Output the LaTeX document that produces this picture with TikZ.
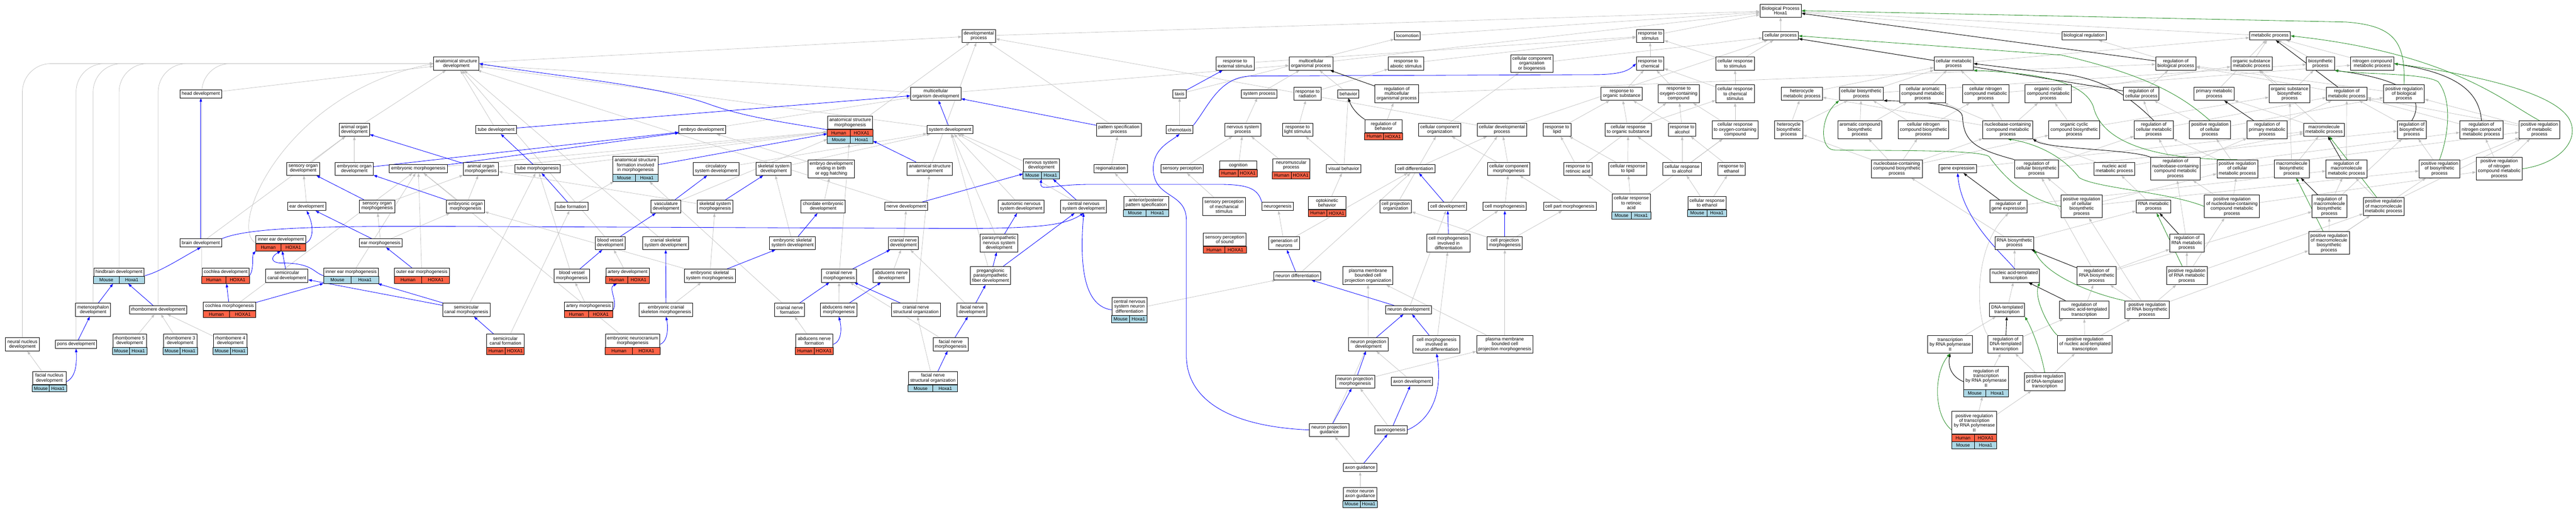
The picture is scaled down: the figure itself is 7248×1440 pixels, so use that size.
\documentclass[tikz,border=0pt]{standalone}
\usepackage{fontspec}
\setmainfont{Liberation Sans}
\usetikzlibrary{arrows.meta,calc,fit}
\pgfdeclarelayer{back}
\pgfdeclarelayer{bg}
\pgfsetlayers{back,bg,main}
\definecolor{hred}{HTML}{FF6347}
\definecolor{mblue}{HTML}{ADD8E6}
\definecolor{eg}{HTML}{C0C0C0}
\definecolor{eb}{HTML}{0000FF}
\definecolor{egr}{HTML}{228B22}
\tikzset{
 box/.style={draw=black,line width=1.4pt,fill=white,align=center,inner xsep=5pt,inner ysep=1pt,font=\fontsize{13}{13.6}\selectfont},
 rowtxt/.style={inner sep=0pt,font=\fontsize{13}{13.6}\selectfont},
 lgrey/.style={draw=eg,line width=1pt,-{Triangle[length=10pt,width=7pt]}},
 lblue/.style={draw=eb,line width=1.2pt,-{Triangle[length=10pt,width=7pt]}},
 lblack/.style={draw=black,line width=1.3pt,-{Triangle[length=10pt,width=7pt]}},
 lgreen/.style={draw=egr,line width=1.2pt,-{Triangle[length=10pt,width=7pt]}},
}
\newcommand{\nd}[5]{\node[box,minimum height={9.5+13.6*#4}] (#1) at (#2,#3) {#5};}
\newcommand{\hrow}[5]{%
 \draw[line width=1.4pt,fill=#3] ($(#1.south west)+(0,#2)$) rectangle ($(#1.south east)+(0,#2+20)$);
 \draw[line width=1.4pt] ($(#1.south)+(0,#2)$) -- ($(#1.south)+(0,#2+20)$);
 \node[rowtxt] at ($(#1.south west)!0.25!(#1.south east)+(0,#2+10)$) {#4};
 \node[rowtxt] at ($(#1.south west)!0.75!(#1.south east)+(0,#2+10)$) {#5};}
\newcommand{\rcH}[5]{%
 \node[box,minimum width=105,minimum height={9.5+13.6*#4}] (#1m) at (#2,#3-10) {#5};
 \hrow{#1m}{0}{hred}{Human}{HOXA1}
 \coordinate (#1b) at ($(#1m.south)+(0,20)$);
 \node[fit=(#1m)(#1b),inner sep=0pt] (#1) {};}
\newcommand{\rcM}[5]{%
 \node[box,minimum width=95,minimum height={9.5+13.6*#4}] (#1m) at (#2,#3-10) {#5};
 \hrow{#1m}{0}{mblue}{Mouse}{Hoxa1}
 \coordinate (#1b) at ($(#1m.south)+(0,20)$);
 \node[fit=(#1m)(#1b),inner sep=0pt] (#1) {};}
\newcommand{\rcHM}[5]{%
 \node[box,minimum width=105,minimum height={9.5+13.6*#4}] (#1m) at (#2,#3-20) {#5};
 \hrow{#1m}{0}{hred}{Human}{HOXA1}
 \hrow{#1m}{20}{mblue}{Mouse}{Hoxa1}
 \coordinate (#1b) at ($(#1m.south)+(0,40)$);
 \node[fit=(#1m)(#1b),inner sep=0pt] (#1) {};}
\begin{document}
\begin{tikzpicture}[x=1pt,y=-1pt]
\begin{pgfonlayer}{back}
\fill[white] (0,0) rectangle (7248,1440);
\end{pgfonlayer}
\useasboundingbox (0,0) rectangle (7248,1440);
% R0
\nd{bp}{5010}{30}{2}{Biological Process\\Hoxa1}
% R1
\nd{devp}{2754}{101}{2}{developmental\\process}
\nd{loco}{3960}{101}{1}{locomotion}
\nd{rstim}{4643}{101}{2}{response to\\stimulus}
\nd{cellp}{5010}{101}{1}{cellular process}
\nd{bioreg}{5864}{101}{1}{biological regulation}
\nd{metp}{6387}{101}{1}{metabolic process}
% R2
\nd{asd}{1284}{179}{2}{anatomical structure\\development}
\nd{rext}{3475}{179}{2}{response to\\external stimulus}
\nd{mop}{3689}{179}{2}{multicellular\\organismal process}
\nd{rabio}{3956}{179}{2}{response to\\abiotic stimulus}
\nd{ccob}{4310}{179}{3}{cellular component\\organization\\or biogenesis}
\nd{rchem}{4643}{179}{2}{response to\\chemical}
\nd{crstim}{4882}{179}{2}{cellular response\\to stimulus}
\nd{cmp}{5497}{179}{2}{cellular metabolic\\process}
\nd{rbp}{6122}{179}{2}{regulation of\\biological process}
\nd{osmp}{6335}{179}{2}{organic substance\\metabolic process}
\nd{biosp}{6529}{179}{2}{biosynthetic\\process}
\nd{ncmp}{6675}{179}{2}{nitrogen compound\\metabolic process}
% R3
\nd{head}{565}{264}{1}{head development}
\nd{mod}{2633}{264}{2}{multicellular\\organism development}
\nd{taxis}{3319}{264}{1}{taxis}
\nd{sysp}{3543}{264}{1}{system process}
\nd{rrad}{3679}{264}{2}{response to\\radiation}
\nd{behav}{3794}{264}{1}{behavior}
\nd{rmop}{3930}{264}{3}{regulation of\\multicellular\\organismal process}
\nd{ros}{4563}{264}{2}{response to\\organic substance}
\nd{rocc}{4723}{264}{3}{response to\\oxygen-containing\\compound}
\nd{crcs}{4882}{264}{3}{cellular response\\to chemical\\stimulus}
\nd{hetmp}{5070}{264}{2}{heterocycle\\metabolic process}
\nd{cbp}{5237}{264}{2}{cellular biosynthetic\\process}
\nd{camp}{5410}{264}{3}{cellular aromatic\\compound metabolic\\process}
\nd{cncmp}{5587}{264}{3}{cellular nitrogen\\compound metabolic\\process}
\nd{occmp}{5763}{264}{3}{organic cyclic\\compound metabolic\\process}
\nd{rcp}{6025}{264}{2}{regulation of\\cellular process}
\nd{pmp}{6230}{264}{2}{primary metabolic\\process}
\nd{osbp}{6442}{264}{3}{organic substance\\biosynthetic\\process}
\nd{rmp}{6603}{264}{2}{regulation of\\metabolic process}
\nd{prbp}{6764}{264}{3}{positive regulation\\of biological\\process}
% R4
\nd{aod}{997}{365}{2}{animal organ\\development}
\nd{tubed}{1396}{365}{1}{tube development}
\nd{embd}{1976}{365}{1}{embryo development}
\rcHM{asm}{2392}{365}{2}{anatomical structure\\morphogenesis}
\nd{sysd}{2673}{365}{1}{system development}
\nd{psp}{3148}{365}{2}{pattern specification\\process}
\nd{chemo}{3319}{365}{1}{chemotaxis}
\nd{nsp}{3497}{365}{2}{nervous system\\process}
\nd{rls}{3651}{365}{2}{response to\\light stimulus}
\rcH{rbeh}{3893}{365}{2}{regulation of\\behavior}
\nd{cco}{4051}{365}{2}{cellular component\\organization}
\nd{cdp}{4226}{365}{2}{cellular developmental\\process}
\nd{rlip}{4381}{365}{2}{response to\\lipid}
\nd{cros}{4581}{365}{2}{cellular response\\to organic substance}
\nd{ralc}{4733}{365}{2}{response to\\alcohol}
\nd{crocc}{4882}{365}{3}{cellular response\\to oxygen-containing\\compound}
\nd{hetbp}{5033}{365}{3}{heterocycle\\biosynthetic\\process}
\nd{acbp}{5233}{365}{3}{aromatic compound\\biosynthetic\\process}
\nd{cncbp}{5412}{365}{3}{cellular nitrogen\\compound biosynthetic\\process}
\nd{nccmp}{5649}{365}{3}{nucleobase-containing\\compound metabolic\\process}
\nd{occbp}{5836}{365}{3}{organic cyclic\\compound biosynthetic\\process}
\nd{rcmp}{6060}{365}{3}{regulation of\\cellular metabolic\\process}
\nd{prcp}{6218}{365}{3}{positive regulation\\of cellular\\process}
\nd{rpmp}{6379}{365}{3}{regulation of\\primary metabolic\\process}
\nd{mmp}{6539}{365}{2}{macromolecule\\metabolic process}
\nd{rbsp}{6786}{365}{3}{regulation of\\biosynthetic\\process}
\nd{rncmp}{6982}{365}{3}{regulation of\\nitrogen compound\\metabolic process}
\nd{prmp}{7145}{365}{3}{positive regulation\\of metabolic\\process}
% R5
\nd{sod}{853}{475}{2}{sensory organ\\development}
\nd{eod}{997}{475}{2}{embryonic organ\\development}
\nd{embm}{1177}{475}{1}{embryonic morphogenesis}
\nd{aom}{1353}{475}{2}{animal organ\\morphogenesis}
\nd{tubem}{1513}{475}{1}{tube morphogenesis}
\rcM{asfim}{1788}{475}{3}{anatomical structure\\formation involved\\in morphogenesis}
\nd{circ}{2015}{475}{2}{circulatory\\system development}
\nd{skd}{2177}{475}{2}{skeletal system\\development}
\nd{edeb}{2339}{475}{3}{embryo development\\ending in birth\\or egg hatching}
\nd{asa}{2616}{475}{2}{anatomical structure\\arrangement}
\rcM{nsd}{2930}{475}{2}{nervous system\\development}
\nd{regio}{3125}{475}{1}{regionalization}
\nd{sensp}{3326}{475}{1}{sensory perception}
\rcH{cogn}{3484}{475}{1}{cognition}
\rcH{neuromus}{3633}{475}{2}{neuromuscular\\process}
\nd{visb}{3781}{475}{1}{visual behavior}
\nd{celldiff}{3982}{475}{1}{cell differentiation}
\nd{ccm}{4245}{475}{2}{cellular component\\morphogenesis}
\nd{rra}{4440}{475}{2}{response to\\retinoic acid}
\nd{crlip}{4580}{475}{2}{cellular response\\to lipid}
\nd{cralc}{4733}{475}{2}{cellular response\\to alcohol}
\nd{reth}{4872}{475}{2}{response to\\ethanol}
\nd{nccbp}{5337}{475}{3}{nucleobase-containing\\compound biosynthetic\\process}
\nd{genex}{5508}{475}{1}{gene expression}
\nd{rcbp}{5730}{475}{3}{regulation of\\cellular biosynthetic\\process}
\nd{namp}{5949}{475}{2}{nucleic acid\\metabolic process}
\nd{rnccmp}{6121}{475}{4}{regulation of\\nucleobase-containing\\compound metabolic\\process}
\nd{prcmp}{6295}{475}{3}{positive regulation\\of cellular\\metabolic process}
\nd{mbp}{6448}{475}{3}{macromolecule\\biosynthetic\\process}
\nd{rmmp}{6602}{475}{3}{regulation of\\macromolecule\\metabolic process}
\nd{prbsp}{6864}{475}{3}{positive regulation\\of biosynthetic\\process}
\nd{prncmp}{7032}{475}{4}{positive regulation\\of nitrogen\\compound metabolic\\process}
% R6
\nd{eard}{863}{581}{1}{ear development}
\nd{som}{1061}{581}{2}{sensory organ\\morphogenesis}
\nd{eom}{1310}{581}{2}{embryonic organ\\morphogenesis}
\nd{tubef}{1608}{581}{1}{tube formation}
\nd{vasc}{1874}{581}{2}{vasculature\\development}
\nd{sksm}{2012}{581}{2}{skeletal system\\morphogenesis}
\nd{ced}{2316}{581}{2}{chordate embryonic\\development}
\nd{nerved}{2550}{581}{1}{nerve development}
\nd{ansd}{2873}{581}{2}{autonomic nervous\\system development}
\nd{cnsd}{3049}{581}{2}{central nervous\\system development}
\rcM{app}{3225}{581}{2}{anterior/posterior\\pattern specification}
\nd{spms}{3444}{581}{3}{sensory perception\\of mechanical\\stimulus}
\nd{neurog}{3595}{581}{1}{neurogenesis}
\rcH{optok}{3734}{581}{2}{optokinetic\\behavior}
\nd{cpo}{3927}{581}{2}{cell projection\\organization}
\nd{celldev}{4073}{581}{1}{cell development}
\nd{cellm}{4234}{581}{1}{cell morphogenesis}
\nd{cpm}{4417}{581}{1}{cell part morphogenesis}
\rcM{crra}{4590}{581}{3}{cellular response\\to retinoic\\acid}
\rcM{creth}{4803}{581}{2}{cellular response\\to ethanol}
\nd{rge}{5651}{581}{2}{regulation of\\gene expression}
\nd{prcbp}{5857}{581}{4}{positive regulation\\of cellular\\biosynthetic\\process}
\nd{rnamp}{6059}{581}{2}{RNA metabolic\\process}
\nd{prnccmp}{6280}{581}{4}{positive regulation\\of nucleobase-containing\\compound metabolic\\process}
\nd{rmbp}{6554}{581}{4}{regulation of\\macromolecule\\biosynthetic\\process}
\nd{prmmp}{6707}{581}{3}{positive regulation\\of macromolecule\\metabolic process}
% R7
\nd{brain}{565}{684}{1}{brain development}
\rcH{ied}{790}{684}{1}{inner ear development}
\nd{earm}{1071}{684}{1}{ear morphogenesis}
\nd{bvd}{1717}{684}{2}{blood vessel\\development}
\nd{cssd}{1873}{684}{2}{cranial skeletal\\system development}
\nd{essd}{2230}{684}{2}{embryonic skeletal\\system development}
\nd{cnd}{2542}{684}{2}{cranial nerve\\development}
\nd{psnsd}{2811}{684}{3}{parasympathetic\\nervous system\\development}
\rcH{sps}{3446}{684}{2}{sensory perception\\of sound}
\nd{gon}{3613}{684}{2}{generation of\\neurons}
\nd{cmid}{4076}{684}{3}{cell morphogenesis\\involved in\\differentiation}
\nd{cprm}{4234}{684}{2}{cell projection\\morphogenesis}
\nd{rnabp}{5668}{684}{2}{RNA biosynthetic\\process}
\nd{rrnamp}{6153}{684}{3}{regulation of\\RNA metabolic\\process}
\nd{prmbp}{6553}{684}{4}{positive regulation\\of macromolecule\\biosynthetic\\process}
% R8
\rcM{hbd}{335}{776}{1}{hindbrain development}
\rcH{cochd}{635}{776}{1}{cochlea development}
\nd{scd}{807}{776}{2}{semicircular\\canal development}
\rcM{iem}{988}{776}{1}{inner ear morphogenesis}
\rcH{oem}{1187}{776}{1}{outer ear morphogenesis}
\nd{bvm}{1609}{776}{2}{blood vessel\\morphogenesis}
\rcH{arterd}{1766}{776}{1}{artery development}
\nd{essm}{1997}{776}{2}{embryonic skeletal\\system morphogenesis}
\nd{cnm}{2361}{776}{2}{cranial nerve\\morphogenesis}
\nd{abnd}{2508}{776}{2}{abducens nerve\\development}
\nd{ppfd}{2787}{776}{3}{preganglionic\\parasympathetic\\fiber development}
\nd{neudiff}{3650}{776}{1}{neuron differentiation}
\nd{pmbcpo}{3849}{776}{3}{plasma membrane\\bounded cell\\projection organization}
\nd{natt}{5669}{776}{2}{nucleic acid-templated\\transcription}
\nd{rrnabp}{5899}{776}{3}{regulation of\\RNA biosynthetic\\process}
\nd{prrnamp}{6153}{776}{3}{positive regulation\\of RNA metabolic\\process}
% R9
\nd{meten}{262}{872}{2}{metencephalon\\development}
\nd{rhd}{445}{872}{1}{rhombomere development}
\rcH{cochm}{646}{872}{1}{cochlea morphogenesis}
\nd{scm}{1312}{872}{2}{semicircular\\canal morphogenesis}
\rcH{artm}{1656}{872}{1}{artery morphogenesis}
\nd{ecsm}{1874}{872}{2}{embryonic cranial\\skeleton morphogenesis}
\nd{cnf}{2222}{872}{2}{cranial nerve\\formation}
\nd{abnm}{2360}{872}{2}{abducens nerve\\morphogenesis}
\nd{cnso}{2577}{872}{2}{cranial nerve\\structural organization}
\nd{fnd}{2735}{872}{2}{facial nerve\\development}
\rcM{cnsnd}{3178}{872}{3}{central nervous\\system neuron\\differentiation}
\nd{neudev}{3963}{872}{1}{neuron development}
\nd{dtt}{5647}{872}{2}{DNA-templated\\transcription}
\nd{rnatt}{5864}{872}{3}{regulation of\\nucleic acid-templated\\transcription}
\nd{prrnabp}{6041}{872}{3}{positive regulation\\of RNA biosynthetic\\process}
% R10
\nd{nnd}{63}{969}{2}{neural nucleus\\development}
\nd{pons}{214}{969}{1}{pons development}
\rcM{rh5}{365}{969}{2}{rhombomere 5\\development}
\rcM{rh3}{507}{969}{2}{rhombomere 3\\development}
\rcM{rh4}{648}{969}{2}{rhombomere 4\\development}
\rcH{scf}{1422}{969}{2}{semicircular\\canal formation}
\rcH{enm}{1780}{969}{2}{embryonic neurocranium\\morphogenesis}
\rcH{abnf}{2291}{969}{2}{abducens nerve\\formation}
\nd{fnm}{2675}{969}{2}{facial nerve\\morphogenesis}
\nd{npd}{3850}{969}{2}{neuron projection\\development}
\nd{cmind}{4042}{969}{3}{cell morphogenesis\\involved in\\neuron differentiation}
\nd{pmbcpm}{4234}{969}{3}{plasma membrane\\bounded cell\\projection morphogenesis}
\nd{trp2}{5487}{969}{3}{transcription\\by RNA polymerase\\II}
\nd{rdtt}{5643}{969}{3}{regulation of\\DNA-templated\\transcription}
\nd{prnatt}{5866}{969}{3}{positive regulation\\of nucleic acid-templated\\transcription}
% R11
\rcM{fnud}{139}{1074}{2}{facial nucleus\\development}
\rcM{fnso}{2625}{1074}{2}{facial nerve\\structural organization}
\nd{npm}{3813}{1074}{2}{neuron projection\\morphogenesis}
\nd{axd}{3973}{1074}{1}{axon development}
\rcM{rtrp2}{5588}{1074}{4}{regulation of\\transcription\\by RNA polymerase\\II}
\nd{prdtt}{5753}{1074}{3}{positive regulation\\of DNA-templated\\transcription}
% R12-14
\nd{npg}{3740}{1210}{2}{neuron projection\\guidance}
\nd{axgen}{3914}{1210}{1}{axonogenesis}
\rcHM{prtrp2}{5555}{1210}{4}{positive regulation\\of transcription\\by RNA polymerase\\II}
\nd{axg}{3827}{1316}{1}{axon guidance}
\rcM{mnag}{3827}{1400}{2}{motor neuron\\axon guidance}

\begin{pgfonlayer}{bg}
% grey edges
\foreach \a/\b in {devp/bp,loco/bp,rstim/bp,cellp/bp,bioreg/bp,metp/bp,mop/bp,
 asd/devp,rext/rstim,rabio/rstim,rchem/rstim,crstim/rstim,crstim/cellp,ccob/cellp,cmp/cellp,cmp/metp,rbp/bioreg,osmp/metp,biosp/metp,ncmp/metp,
 mod/asd,mod/mop,head/asd,taxis/loco,sysp/mop,rrad/rabio,behav/mop,rmop/rbp,ros/rchem,rocc/rchem,crcs/rchem,crcs/crstim,hetmp/cmp,cbp/cmp,cbp/biosp,camp/cmp,cncmp/cmp,cncmp/ncmp,occmp/osmp,rcp/rbp,pmp/metp,osbp/osmp,osbp/biosp,rmp/rbp,prbp/rbp,
 aod/asd,tubed/asd,embd/mod,asm/devp,sysd/asd,psp/devp,chemo/taxis,nsp/sysp,rls/rrad,rbeh/rmop,cco/ccob,cdp/cellp,cdp/devp,rlip/ros,cros/ros,cros/crcs,ralc/rocc,ralc/ros,crocc/rocc,crocc/crcs,hetbp/hetmp,hetbp/cbp,acbp/cbp,acbp/camp,cncbp/cbp,cncbp/cncmp,nccmp/camp,nccmp/cncmp,nccmp/hetmp,nccmp/occmp,occbp/occmp,occbp/osbp,rcmp/rcp,rcmp/rmp,prcp/rcp,prcp/prbp,rpmp/rmp,mmp/pmp,mmp/osmp,rbsp/rmp,rncmp/rmp,prmp/rmp,prmp/prbp,
 sod/aod,eod/aod,embm/asm,aom/asm,tubem/asm,circ/sysd,skd/sysd,edeb/embd,asa/devp,nsd/sysd,regio/psp,sensp/nsp,cogn/nsp,neuromus/nsp,visb/behav,visb/rls,celldiff/cdp,ccm/cdp,ccm/cco,rra/rlip,rra/rocc,crlip/rlip,crlip/cros,cralc/ralc,cralc/cros,cralc/crocc,reth/ralc,nccbp/hetbp,nccbp/acbp,nccbp/cncbp,nccbp/nccmp,nccbp/occbp,genex/mmp,rcbp/rcmp,rcbp/rbsp,namp/nccmp,namp/mmp,rnccmp/rcmp,rnccmp/rpmp,rnccmp/rncmp,prcmp/rcmp,prcmp/prcp,prcmp/prmp,mbp/mmp,mbp/osbp,rmmp/rmp,prbsp/rbsp,prbsp/prmp,prncmp/rncmp,prncmp/prmp,
 eard/sod,som/aom,eom/aom,eom/embm,tubef/asfim,vasc/asm,sksm/aom,ced/edeb,nerved/asd,ansd/sysd,cnsd/sysd,psnsd/sysd,ppfd/sysd,app/regio,spms/sensp,gon/neurog,gon/celldiff,neudiff/celldiff,optok/visb,cpo/cco,celldev/cdp,cellm/ccm,cpm/ccm,crra/crlip,crra/rra,crra/crocc,creth/cralc,creth/reth,rge/rmmp,prcbp/rcbp,prcbp/prcmp,prcbp/prbsp,rnamp/namp,prnccmp/rnccmp,prnccmp/prcmp,prnccmp/prncmp,rmbp/rmmp,rmbp/rbsp,prmmp/rmmp,prmmp/prmp,
 brain/aod,earm/som,earm/eom,bvd/asd,cssd/asd,essd/skd,cnd/nerved,bvm/tubem,arterd/bvd,essm/sksm,essm/eom,cnm/asm,abnd/cnd,iem/embm,oem/embm,cochm/embm,scm/tubem,artm/bvm,ecsm/essm,cnf/asfim,abnm/cnm,cnso/asa,rh5/rhd,rh3/rhd,rh4/rhd,scf/tubef,enm/embm,abnf/cnf,fnm/cnm,fnud/nnd,fnso/cnso,fnd/cnd,cnsnd/neudiff,neudev/celldev,npd/pmbcpo,cmid/cellm,cprm/cpm,cprm/cpo,pmbcpm/cprm,pmbcpm/pmbcpo,cmind/cmid,npm/pmbcpm,axd/npd,axgen/npm,npg/npd,axg/npg,mnag/axg,
 rnabp/rnamp,rnabp/nccbp,rrnamp/rnccmp,prmbp/rmbp,prmbp/prmmp,prmbp/prbsp,natt/rnabp,rrnabp/rrnamp,rrnabp/rcbp,rrnabp/rmbp,prrnamp/rrnamp,prrnamp/prnccmp,prrnamp/prmmp,dtt/natt,rnatt/rrnabp,prrnabp/rrnabp,prrnabp/prrnamp,prrnabp/prcbp,prrnabp/prmbp,trp2/dtt,rdtt/rnatt,prnatt/rnatt,prnatt/prrnabp,rtrp2/rdtt,prdtt/rdtt,prdtt/prnatt,prtrp2/rtrp2,prtrp2/prdtt}
 {\draw[lgrey] (\a) -- (\b);}
\foreach \a in {nnd,pons,meten,hbd,rhd}
 {\draw[lgrey,rounded corners=80pt] (\a.north) |- (asd.west);}
\draw[lgrey,rounded corners=80pt] (cochd.north west) |- (asd.west);
\draw[lgrey] (ied.west) .. controls (640,640) and (800,260) .. (asd.west);
\draw[lgrey] (rdtt.north west) .. controls (5560,900) and (5550,700) .. (rge.south);
% blue edges
\foreach \a/\b in {brain/head,earm/eard,som/sod,eod/embd,embm/embd,aom/aod,eom/eod,scd/ied,oem/earm,cochm/cochd,cochm/iem,scm/scd,scm/iem,scf/scm,meten/hbd,rhd/hbd,pons/meten,nerved/nsd,cnm/cnd,cnf/cnm,abnm/abnd,cnso/cnm,fnso/fnm,fnm/fnd,fnd/ppfd,ppfd/psnsd,ppfd/cnsd,psnsd/ansd,cnsd/nsd,psp/mod,sysd/mod,taxis/rext,npg/npm,axgen/axd,axg/axgen,npm/npd,npd/neudev,cmind/neudev,neudev/neudiff,neudiff/gon,celldev/celldiff,cmid/celldev,tubed/mod,tubem/tubed,tubef/tubem,asfim/asm,asa/asm,bvd/vasc,vasc/circ,bvm/bvd,sksm/skd,essm/essd,essd/ced,ecsm/cssd,cprm/cellm}
 {\draw[lblue] (\a) -- (\b);}
\draw[lblue] (asm.west) .. controls (2200,343) and (2100,330) .. (2000,295) .. controls (1850,240) and (1600,220) .. (asd.east);
\draw[lblue] (hbd.east) .. controls (450,766) and (520,720) .. (brain.south);
\draw[lblue] (ied.east) .. controls (880,676) and (885,640) .. (eard.south);
\draw[lblue] (iem.west) .. controls (880,766) and (880,740) .. (790,740) .. controls (765,740) and (758,725) .. (ied.south);
\draw[lblue] (cochd.east) .. controls (716,755) and (708,720) .. (ied.south west);
\draw[lblue] (fnud.east) .. controls (215,1060) and (216,1020) .. (pons.south);
\draw[lblue] (brain.north east) .. controls (700,640) and (900,637) .. (1200,637) -- (2700,643) .. controls (2950,643) and (3000,630) .. (cnsd.south);
\draw[lblue] (neurog.north west) .. controls (3540,535) and (3520,520) .. (3440,519) -- (3060,519) .. controls (2950,520) and (2925,540) .. (nsd.south);
\draw[lblue] (cnsnd.west) .. controls (3040,860) and (3040,720) .. (cnsd.south);
\draw[lblue] (chemo.north east) .. controls (3400,300) and (3430,216) .. (3520,214) -- (4500,210) .. controls (4560,208) and (4580,200) .. (rchem.west);
\draw[lblue] (npg.west) .. controls (3450,1200) and (3338,1120) .. (3338,1000) -- (3338,620) .. controls (3338,540) and (3250,560) .. (3245,480) .. controls (3242,420) and (3290,400) .. (chemo.south);
\draw[lblue] (axgen.east) .. controls (4030,1180) and (4060,1100) .. (cmind.south);
\draw[lblue] (artm.east) .. controls (1740,850) and (1710,810) .. ([xshift=-30pt]arterd.south);
\draw[lblue] (enm.east) .. controls (1880,960) and (1880,920) .. (ecsm.south);
\draw[lblue] (abnf.east) .. controls (2370,960) and (2368,920) .. (abnm.south);
\draw[lblue] (natt.north) .. controls (5640,720) and (5520,620) .. (genex.south);
% black edges
\foreach \a/\b in {rbp/bp,rcp/cellp,rmop/mop,rmp/metp,rpmp/pmp,rmmp/mmp,rmbp/mbp,rrnamp/rnamp,rge/genex,rrnabp/rnabp,rnatt/natt,rdtt/dtt}
 {\draw[lblack] (\a) -- (\b);}
\draw[lblack] (rbeh.north west) .. controls (3830,330) and (3805,310) .. (behav.south);
\draw[lblack] (rbsp.north) .. controls (6840,250) and (6700,215) .. (biosp.south east);
\draw[lblack] (rncmp.north) .. controls (6975,250) and (6900,205) .. (ncmp.east);
\draw[lblack] (rcbp.north west) .. controls (5560,420) and (5525,400) .. (5522,330) .. controls (5520,290) and (5400,286) .. (cbp.south east);
\draw[lblack] (rnccmp.north west) .. controls (6000,420) and (5760,420) .. (nccmp.south east);
\draw[lblack] (rcmp.north) .. controls (5980,260) and (5900,210) .. (5750,203) -- (cmp.east);
\draw[lblack] (rtrp2.west) .. controls (5490,1060) and (5480,1030) .. (trp2.south);
% green edges
\foreach \a/\b in {prmbp/mbp,prrnamp/rnamp,prmmp/mmp}
 {\draw[lgreen] (\a) -- (\b);}
\draw[lgreen] (prbp.north) .. controls (6768,120) and (6740,72) .. (6600,62) -- (bp.east);
\draw[lgreen] (prcp.north) .. controls (6150,280) and (6060,215) .. (5800,155) -- (cellp.east);
\draw[lgreen] (prmp.north) .. controls (7050,290) and (6900,150) .. (metp.east);
\draw[lgreen] (prncmp.east) .. controls (7200,460) and (7250,400) .. (7235,350) .. controls (7215,270) and (7000,215) .. (ncmp.east);
\draw[lgreen] (prbsp.north) .. controls (6890,380) and (6900,280) .. (6860,230) .. controls (6820,205) and (6650,210) .. (biosp.south east);
\draw[lgreen] (prcmp.north) .. controls (6150,450) and (5920,430) .. (5890,300) .. controls (5860,220) and (5700,205) .. (cmp.south east);
\draw[lgreen] (prcbp.west) .. controls (5700,560) and (5640,500) .. (5596,440) .. controls (5560,420) and (5300,425) .. (5160,422) .. controls (5120,420) and (5120,330) .. (cbp.south west);
\draw[lgreen] (prnccmp.west) .. controls (6100,540) and (5900,530) .. (5850,500) .. controls (5820,460) and (5760,410) .. (nccmp.south);
\draw[lgreen] (prrnabp.north west) .. controls (5900,830) and (5760,780) .. (rnabp.south east);
\draw[lgreen] (prnatt.north west) .. controls (5770,930) and (5720,840) .. (natt.south east);
\draw[lgreen] (prdtt.north) .. controls (5745,1000) and (5720,930) .. (dtt.south east);
\draw[lgreen] (prtrp2.west) .. controls (5440,1170) and (5440,1050) .. (trp2.south);
\end{pgfonlayer}
\end{tikzpicture}
\end{document}
